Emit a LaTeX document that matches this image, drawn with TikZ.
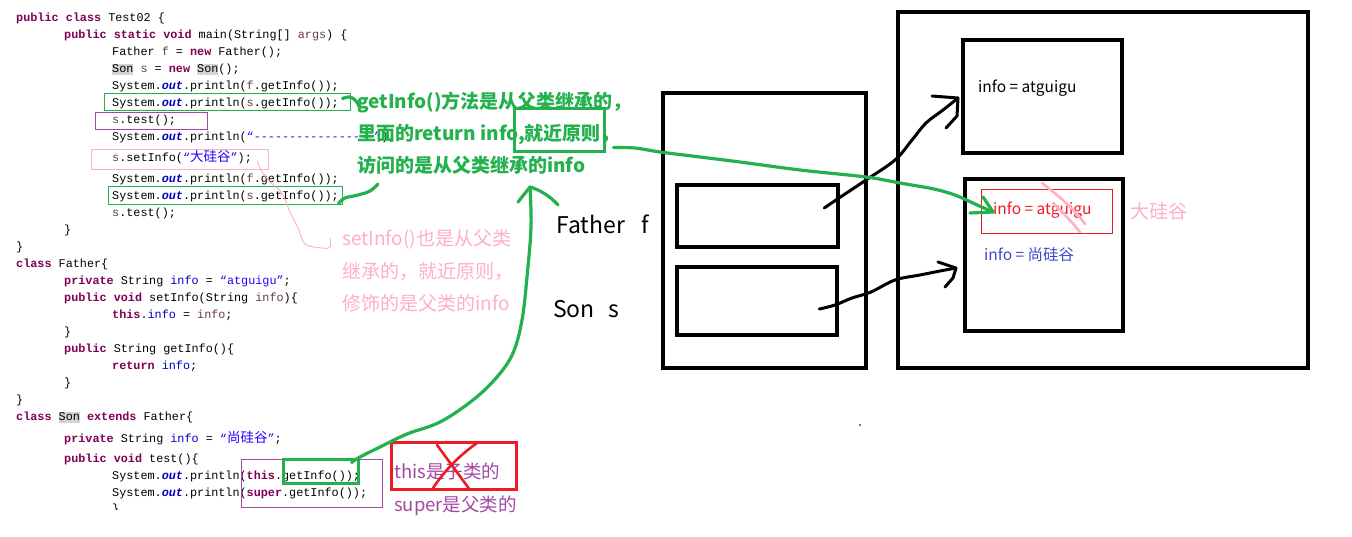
\documentclass[tikz,border=0pt]{standalone}
\usepackage{fontspec}
\setmonofont{Liberation Mono}
\newfontfamily\cjk{Noto Sans CJK SC}
\usetikzlibrary{calc}
\definecolor{ckw}{HTML}{7F0055}
\definecolor{cstr}{HTML}{2A00FF}
\definecolor{cfld}{HTML}{0000C0}
\definecolor{clv}{HTML}{6A3E3E}
\definecolor{chl}{HTML}{D4D4D4}
\definecolor{pgreen}{HTML}{22B14C}
\definecolor{ppurple}{HTML}{A349A4}
\definecolor{ppink}{HTML}{FFAEC9}
\definecolor{pred}{HTML}{ED1C24}
\definecolor{pblue}{HTML}{3F48CC}
\newcommand\kwd[1]{{\bfseries\color{ckw}#1}}
\newcommand\strg[1]{{\color{cstr}#1}}
\newcommand\fld[1]{{\color{cfld}#1}}
\newcommand\lvar[1]{{\color{clv}#1}}
\newcommand\outf{{\bfseries\itshape\color{cfld}out}}
\newcommand\hlg[1]{{\setlength\fboxsep{0pt}\colorbox{chl}{\rule[-3pt]{0pt}{11.5pt}#1}}}
\newcommand\cjkc{\cjk\fontsize{13.5}{14}\selectfont}
\begin{document}
\begin{tikzpicture}[x=1pt,y=-1pt,
  code/.style={anchor=base west,inner sep=0pt,font=\ttfamily\fontsize{11.8}{14}\selectfont},
  cbox/.style={draw,line width=1pt,inner sep=0pt,rectangle},
  tbox/.style={draw,line width=3pt,inner sep=0pt,rectangle},
  bbox/.style={draw=black,line width=4.5pt,inner sep=0pt,rectangle},
  note/.style={anchor=base west,inner sep=0pt},
  gnote/.style={note,text=pgreen,font=\cjk\bfseries\fontsize{19}{22}\selectfont},
  pnote/.style={note,text=ppink,font=\cjk\fontsize{19}{22}\selectfont},
  vnote/.style={note,text=ppurple,font=\cjk\fontsize{18.5}{22}\selectfont},
  heap/.style={note,font=\cjk\fontsize{15.5}{18}\selectfont},
  paint/.style={line width=3.2pt,line cap=round,line join=round},
  blk/.style={line width=3pt,line cap=round,line join=round,draw=black},
]
\useasboundingbox[fill=white] (0,0) rectangle (1352,536);

% ---------------- code ----------------
\node[code] (c1) at (16,21) {\kwd{public class} Test02 \{};
\node[code] (c2) at (64,38) {\kwd{public static void} main(String[] \lvar{args}) \{};
\node[code] (c3) at (112,55) {Father \lvar{f} = \kwd{new} Father();};
\node[code] (c4) at (112,72) {\hlg{Son} \lvar{s} = \kwd{new} \hlg{Son}();};
\node[code] (c5) at (112,89) {System.\outf.println(\lvar{f}.getInfo());};
\node[code] (c6) at (112,106) {System.\outf.println(\lvar{s}.getInfo());};
\node[code] (c7) at (112,123) {\lvar{s}.test();};
\node[code] (c8) at (112,140) {System.\outf.println(\strg{“-{}-{}-{}-{}-{}-{}-{}-{}-{}-{}-{}-{}-{}-{}-{}-{}-{}”});};
\node[code] (c9) at (112,161) {\lvar{s}.setInfo(\strg{“{\cjkc 大硅谷}”});};
\node[code] (c10) at (112,182) {System.\outf.println(\lvar{f}.getInfo());};
\node[code] (c11) at (112,199) {System.\outf.println(\lvar{s}.getInfo());};
\node[code] (c12) at (112,216) {\lvar{s}.test();};
\node[code] (c13) at (64,233) {\}};
\node[code] (c14) at (16,250) {\}};
\node[code] (c15) at (16,267) {\kwd{class} Father\{};
\node[code] (c16) at (64,284) {\kwd{private} String \fld{info} = \strg{“atguigu”};};
\node[code] (c17) at (64,301) {\kwd{public void} setInfo(String \lvar{info})\{};
\node[code] (c18) at (112,318) {\kwd{this}.\fld{info} = \lvar{info};};
\node[code] (c19) at (64,335) {\}};
\node[code] (c20) at (64,352) {\kwd{public} String getInfo()\{};
\node[code] (c21) at (112,369) {\kwd{return} \fld{info};};
\node[code] (c22) at (64,386) {\}};
\node[code] (c23) at (16,403) {\}};
\node[code] (c24) at (16,420) {\kwd{class} \hlg{Son} \kwd{extends} Father\{};
\node[code] (c25) at (64,442) {\kwd{private} String \fld{info} = \strg{“{\cjkc 尚硅谷}”};};
\node[code] (c26) at (64,462) {\kwd{public void} test()\{};
\node[code] (c27) at (112,479) {System.\outf.println(\kwd{this}.getInfo());};
\node[code] (c28) at (112,496) {System.\outf.println(\kwd{super}.getInfo());};
\begin{scope}
\clip (100,500) rectangle (130,509);
\node[code] (c29) at (112,512.5) {\}};
\end{scope}

% ---------------- code boxes ----------------
\node[cbox,draw=pgreen,minimum width=246pt,minimum height=17pt] (g6) at (227,101.5) {};
\node[cbox,draw=ppurple,minimum width=112pt,minimum height=17pt] (p7) at (151,120.5) {};
\node[cbox,draw=ppink,minimum width=177pt,minimum height=20pt] (k9) at (179.5,159) {};
\node[cbox,draw=pgreen,minimum width=234pt,minimum height=18pt] (g11) at (225,195) {};
\node[cbox,draw=ppurple,minimum width=141pt,minimum height=48pt] (pT) at (311.5,483) {};
\node[tbox,draw=pgreen,minimum width=75pt,minimum height=24pt] (gT) at (320.5,471) {};
\node[tbox,draw=pred,minimum width=125pt,minimum height=47pt] (RX) at (453.5,465.5) {};

% ---------------- notes ----------------
\node[gnote] (t1) at (357,108) {getInfo()方法是从父类继承的，};
\node[gnote] (t2) at (357,140) {里面的return info,就近原则，};
\node[gnote] (t3) at (357,172) {访问的是从父类继承的info};
\node[tbox,draw=pgreen,minimum width=90pt,minimum height=43pt] (GJ) at (559,129.5) {};

\node[pnote] (q1) at (342,245) {setInfo()也是从父类};
\node[pnote] (q2) at (342,278) {继承的，就近原则，};
\node[pnote] (q3) at (342,310) {修饰的是父类的info};

\node[vnote] (v1) at (394,478.5) {this是子类的};
\node[vnote] (v2) at (394,511.5) {super是父类的};

\node[note,font=\cjk\fontsize{23}{26}\selectfont] (lf) at (556,233) {Father\hspace{17pt}f};
\node[note,font=\cjk\fontsize{23}{26}\selectfont] (ls) at (553,317) {Son\hspace{14pt}s};

% ---------------- memory ----------------
\node[bbox,minimum width=203pt,minimum height=275pt] (S) at (764.5,230.5) {};
\node[bbox,minimum width=161pt,minimum height=62pt] (F) at (757.5,216) {};
\node[bbox,minimum width=160pt,minimum height=68pt] (Sb) at (757,301) {};
\node[bbox,minimum width=410pt,minimum height=356pt] (H) at (1103,190) {};
\node[bbox,minimum width=159pt,minimum height=113pt] (HT) at (1042.5,96.5) {};
\node[bbox,minimum width=158pt,minimum height=152pt] (HB) at (1044,255) {};
\node[cbox,draw=pred,minimum width=131pt,minimum height=44pt] (RB) at (1046.5,211) {};

\node[heap] (h1) at (978,92) {info = atguigu};
\node[heap,text=pred] (h2) at (993,214) {info = atguigu};
\node[heap,text=pblue] (h3) at (984,260) {info = 尚硅谷};
\node[note,text=ppink,font=\cjk\fontsize{19}{22}\selectfont] (h4) at (1130,218.5) {大硅谷};

% pink strike-through
\draw[paint,ppink,line width=2.6pt] (1042,183) .. controls (1060,197) and (1075,210) .. (1085,224);
\draw[paint,ppink,line width=2.6pt] (1053,203) .. controls (1064,214) and (1072,222) .. (1080,232);

% red X
\draw[paint,pred,line width=2.6pt] (437,445) -- (470,490);
\draw[paint,pred,line width=2.6pt] (477,443) .. controls (460,455) and (445,470) .. (433,488);

% ---------------- connectors ----------------
% black arrows
\coordinate (ba) at ($(F.east)+(-16,-8)$);
\coordinate (tipA) at (958,98);
\draw[blk] plot[smooth,tension=0.6] coordinates {(ba) (839,198) (866,180) (895,160) (912,140) (926,123) (943,110) (tipA)};
\draw[blk] (932,96) -- (tipA) -- (957,116) -- (946,128);
\coordinate (bb) at ($(Sb.east)+(-20,8)$);
\coordinate (tipB) at (956,268);
\draw[blk] plot[smooth,tension=0.6] coordinates {(bb) (835,305) (852,298) (871,292) (895,280) (920,275) (940,271) (tipB)};
\draw[blk] (938,262) -- (tipB) -- (953,278) -- (945,287);

% green arrow from 就近原则 to red box
\coordinate (ga) at ($(GJ.south east)+(8,-5)$);
\coordinate (tipG) at (993,212);
\draw[paint,pgreen] plot[smooth,tension=0.5] coordinates {(ga) (635,148) (660,152) (700,157) (740,162) (800,170) (866,177) (900,183) (934,189) (955,195) (975,204) (tipG)};
\draw[paint,pgreen] (983,197) -- (tipG) -- (970,213);

% long green arrow from this.getInfo() to note
\coordinate (gl) at ($(gT.north east)+(-8,5)$);
\coordinate (tipL) at (530,187);
\draw[paint,pgreen] plot[smooth,tension=0.6] coordinates {(gl) (360,457) (380,447) (407,434) (440,422) (473,400) (497,377) (513,353) (522,320) (527,277) (531,227) (tipL)};
\draw[paint,pgreen] (518,202) -- (tipL) .. controls (540,190) and (550,196) .. (558,205);

% short green hooks
\coordinate (gs1) at ($(g6.east)+(-8,-3)$);
\draw[paint,pgreen] plot[smooth,tension=0.6] coordinates {(gs1) (350,97) (356,101) (360,108)};
\coordinate (gs2) at ($(g11.south east)+(-4,-1)$);
\draw[paint,pgreen] plot[smooth,tension=0.6] coordinates {(gs2) (345,198) (358,195) (370,191) (378,184)};

% thin pink curve from setInfo box
\coordinate (pk) at ($(k9.south east)+(-11,-9)$);
\draw[ppink,line width=0.9pt] plot[smooth,tension=0.6] coordinates {(pk) (260,168) (270,182) (282,193) (290,212) (298,228) (305,244) (322,248) (330,247) (330,238)};

% stray dot
\fill[pgreen] (859,424) rectangle (861,426);
\end{tikzpicture}
\end{document}
